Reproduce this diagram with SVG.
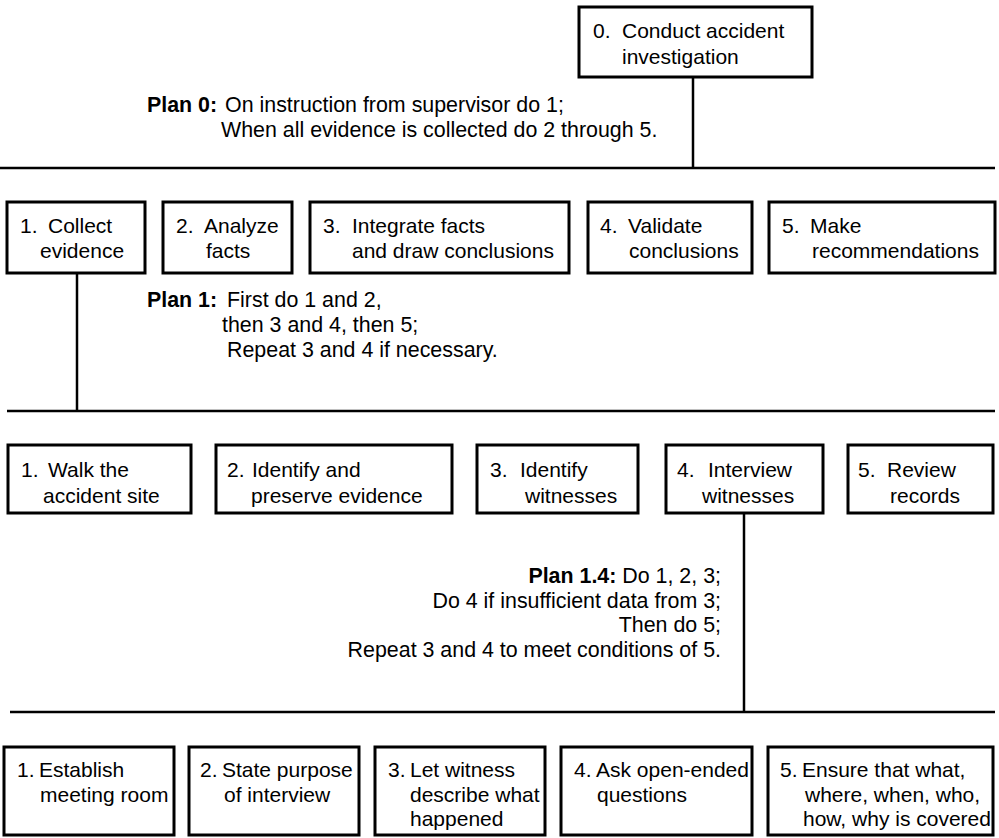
<svg xmlns="http://www.w3.org/2000/svg" width="999" height="838" viewBox="0 0 999 838">
<style>
.box{fill:#fff;stroke:#000;stroke-width:3}
.t{font-family:"Liberation Sans",Arial,Helvetica,sans-serif;font-size:21px;fill:#000}
.p{font-size:21.4px}
.b{font-weight:bold}
.ln{stroke:#000;stroke-width:2.5;fill:none}
</style>
<rect width="999" height="838" fill="#fff"/>
<g id="connectors">
<line class="ln" x1="693" y1="77" x2="693" y2="168"/>
<line class="ln" x1="0" y1="168" x2="995" y2="168"/>
<line class="ln" x1="77" y1="273" x2="77" y2="411"/>
<line class="ln" x1="7" y1="411" x2="995" y2="411"/>
<line class="ln" x1="744" y1="513" x2="744" y2="712"/>
<line class="ln" x1="10" y1="712" x2="995" y2="712"/>
</g>
<g id="n0">
<rect class="box" x="579" y="7" width="233" height="70"/>
<text class="t" x="593" y="38">0.</text>
<text class="t" x="622" y="38">Conduct accident</text>
<text class="t" x="622" y="64">investigation</text>
</g>
<g id="plan0">
<text class="t p b" x="147" y="112">Plan 0:</text>
<text class="t p" x="225" y="112">On instruction from supervisor do 1;</text>
<text class="t p" x="221" y="137">When all evidence is collected do 2 through 5.</text>
</g>
<g id="n1">
<rect class="box" x="7" y="202" width="138" height="71"/>
<text class="t" x="20" y="233">1.</text>
<text class="t" x="48" y="233">Collect</text>
<text class="t" x="40" y="258">evidence</text>
</g>
<g id="n2">
<rect class="box" x="163" y="202" width="129" height="71"/>
<text class="t" x="176" y="233">2.</text>
<text class="t" x="204" y="233">Analyze</text>
<text class="t" x="206" y="258">facts</text>
</g>
<g id="n3">
<rect class="box" x="310" y="202" width="259" height="71"/>
<text class="t" x="323" y="233">3.</text>
<text class="t" x="352" y="233">Integrate facts</text>
<text class="t" x="352" y="258">and draw conclusions</text>
</g>
<g id="n4">
<rect class="box" x="588" y="202" width="164" height="71"/>
<text class="t" x="600" y="233">4.</text>
<text class="t" x="628" y="233">Validate</text>
<text class="t" x="629" y="258">conclusions</text>
</g>
<g id="n5">
<rect class="box" x="769" y="202" width="226" height="71"/>
<text class="t" x="782" y="233">5.</text>
<text class="t" x="810" y="233">Make</text>
<text class="t" x="812" y="258">recommendations</text>
</g>
<g id="plan1">
<text class="t p b" x="147" y="307">Plan 1:</text>
<text class="t p" x="227" y="307">First do 1 and 2,</text>
<text class="t p" x="222" y="332">then 3 and 4, then 5;</text>
<text class="t p" x="227" y="357">Repeat 3 and 4 if necessary.</text>
</g>
<g id="n1_1">
<rect class="box" x="8" y="445" width="183" height="68"/>
<text class="t" x="21" y="477">1.</text>
<text class="t" x="48" y="477">Walk the</text>
<text class="t" x="43" y="503">accident site</text>
</g>
<g id="n1_2">
<rect class="box" x="216" y="445" width="236" height="68"/>
<text class="t" x="227" y="477">2.</text>
<text class="t" x="252" y="477">Identify and</text>
<text class="t" x="251" y="503">preserve evidence</text>
</g>
<g id="n1_3">
<rect class="box" x="477" y="445" width="161" height="68"/>
<text class="t" x="490" y="477">3.</text>
<text class="t" x="520" y="477">Identify</text>
<text class="t" x="525" y="503">witnesses</text>
</g>
<g id="n1_4">
<rect class="box" x="666" y="445" width="157" height="68"/>
<text class="t" x="677" y="477">4.</text>
<text class="t" x="708" y="477">Interview</text>
<text class="t" x="702" y="503">witnesses</text>
</g>
<g id="n1_5">
<rect class="box" x="848" y="445" width="145" height="68"/>
<text class="t" x="858" y="477">5.</text>
<text class="t" x="887" y="477">Review</text>
<text class="t" x="890" y="503">records</text>
</g>
<g id="plan14">
<text class="t p" x="721" y="583" text-anchor="end"><tspan class="b">Plan 1.4:</tspan>  Do 1, 2, 3;</text>
<text class="t p" x="721" y="608" text-anchor="end">Do 4 if insufficient data from 3;</text>
<text class="t p" x="721" y="632" text-anchor="end">Then do 5;</text>
<text class="t p" x="721" y="657" text-anchor="end">Repeat 3 and 4 to meet conditions of 5.</text>
</g>
<g id="n1_4_1">
<rect class="box" x="4" y="747" width="170" height="88"/>
<text class="t" x="17" y="777">1.</text>
<text class="t" x="39" y="777">Establish</text>
<text class="t" x="40" y="802">meeting room</text>
</g>
<g id="n1_4_2">
<rect class="box" x="189" y="747" width="170" height="88"/>
<text class="t" x="200" y="777">2.</text>
<text class="t" x="222" y="777">State purpose</text>
<text class="t" x="224" y="802">of interview</text>
</g>
<g id="n1_4_3">
<rect class="box" x="375" y="747" width="170" height="88"/>
<text class="t" x="388" y="777">3.</text>
<text class="t" x="410" y="777">Let witness</text>
<text class="t" x="410" y="802">describe what</text>
<text class="t" x="410" y="826">happened</text>
</g>
<g id="n1_4_4">
<rect class="box" x="561" y="747" width="191" height="88"/>
<text class="t" x="574" y="777">4.</text>
<text class="t" x="596" y="777">Ask open-ended</text>
<text class="t" x="597" y="802">questions</text>
</g>
<g id="n1_4_5">
<rect class="box" x="768" y="747" width="225" height="88"/>
<text class="t" x="780" y="777">5.</text>
<text class="t" x="802" y="777">Ensure that what,</text>
<text class="t" x="805" y="802">where, when, who,</text>
<text class="t" x="803" y="826">how, why is covered</text>
</g>
</svg>
